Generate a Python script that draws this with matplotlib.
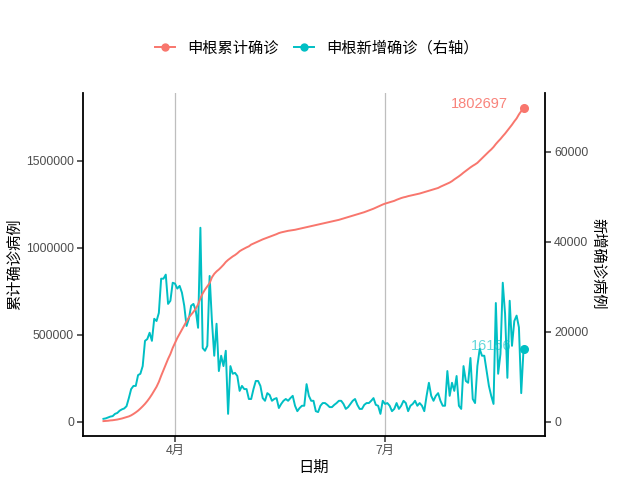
import datetime as dt
import matplotlib
matplotlib.use("Agg")
import matplotlib.pyplot as plt
from matplotlib.lines import Line2D

plt.rcParams['font.family'] = ['Liberation Sans', 'Noto Sans CJK SC', 'DejaVu Sans']

start_date = "2020-03-01"
series_names = ["申根累计确诊", "申根新增确诊（右轴）"]
x_title = "日期"
y_left_title = "累计确诊病例"
y_right_title = "新增确诊病例"
x_tick_dates = ["2020-04-01", "2020-07-01"]
x_tick_labels = ["4月", "7月"]
left_ticks = [0, 500000, 1000000, 1500000]
right_ticks = [0, 20000, 40000, 60000]

# cumulative confirmed (thousands, last exact)
cumulative_k = [
    5, 6, 7, 9, 10, 12, 14, 17, 20, 24, 28, 32, 38, 46, 55, 65, 77, 90, 104, 120,
    138, 158, 180, 202, 230, 265, 297, 330, 362, 390, 425, 454, 482, 506, 530, 555, 578, 600, 616, 632,
    650, 675, 710, 738, 760, 778, 797, 830, 850, 864, 875, 888, 902, 918, 930, 940, 950, 958, 968, 980,
    988, 995, 1002, 1008, 1018, 1024, 1030, 1036, 1042, 1048, 1053, 1058, 1063, 1068, 1073, 1078, 1084, 1088, 1091, 1094,
    1097, 1099, 1101, 1103, 1106, 1109, 1112, 1115, 1118, 1121, 1124, 1127, 1130, 1133, 1136, 1139, 1142, 1145, 1148, 1151,
    1154, 1157, 1160, 1164, 1168, 1172, 1176, 1180, 1184, 1188, 1192, 1196, 1200, 1204, 1209, 1214, 1219, 1224, 1230, 1236,
    1242, 1248, 1253, 1257, 1261, 1265, 1269, 1275, 1280, 1285, 1289, 1292, 1296, 1299, 1302, 1305, 1308, 1311, 1315, 1319,
    1323, 1327, 1331, 1335, 1339, 1343, 1350, 1356, 1362, 1368, 1374, 1382, 1392, 1401, 1410, 1420, 1431, 1441, 1451, 1461,
    1470, 1478, 1487, 1500, 1513, 1526, 1539, 1552, 1564, 1578, 1595, 1610, 1624, 1640, 1655, 1672, 1690, 1706, 1725, 1742,
    1765, 1784, 1802.697,
]

# daily new confirmed (thousands, last exact)
daily_k = [
    0.7, 0.8, 1.0, 1.2, 1.3, 1.8, 2.0, 2.5, 2.8, 3.0,
    3.5, 5.3, 7.3, 8.0, 8.0, 10.4, 10.7, 12.4, 18.0, 18.4,
    19.8, 18.0, 22.9, 22.4, 24.2, 31.8, 31.8, 32.7, 26.2, 26.9,
    30.9, 30.7, 29.6, 30.2, 28.7, 25.8, 21.3, 22.9, 25.8, 26.2,
    24.7, 20.9, 43.1, 16.4, 15.8, 16.9, 32.4, 22.4, 14.7, 21.8,
    11.3, 14.7, 12.4, 15.8, 1.8, 12.4, 10.7, 10.9, 10.2, 6.9,
    8.0, 7.3, 7.3, 5.1, 5.1, 7.3, 9.1, 9.1, 8.0, 5.3,
    4.7, 6.4, 6.0, 4.7, 5.1, 5.3, 3.1, 4.0, 4.7, 5.1,
    4.7, 5.3, 5.8, 3.6, 2.4, 3.1, 3.6, 3.6, 8.4, 5.8,
    4.7, 4.7, 2.4, 2.2, 3.6, 4.2, 4.2, 3.8, 3.3, 3.3,
    3.8, 4.2, 4.7, 4.7, 4.0, 2.9, 3.3, 4.0, 4.7, 5.1,
    3.8, 2.9, 2.9, 3.8, 4.2, 4.2, 4.7, 5.3, 3.8, 3.6,
    1.8, 4.7, 4.0, 4.2, 3.6, 2.4, 2.9, 4.2, 2.9, 3.6,
    4.7, 4.2, 2.4, 3.6, 4.0, 4.7, 3.6, 4.2, 3.6, 2.4,
    5.8, 8.7, 5.8, 4.7, 5.8, 6.4, 4.7, 3.6, 3.6, 11.3,
    5.8, 8.7, 6.9, 10.2, 3.6, 2.9, 12.4, 9.1, 8.7, 14.2,
    5.1, 4.2, 12.4, 16.2, 14.7, 14.7, 11.3, 8.0, 5.8, 4.0,
    26.4, 10.7, 15.1, 30.9, 24.0, 9.8, 26.9, 16.9, 22.4, 23.6,
    21.0, 6.4, 16.156,
]

RED = "#F8766D"
TEAL = "#00BFC4"

d0 = dt.datetime.strptime(start_date, "%Y-%m-%d")
dates = [d0 + dt.timedelta(days=i) for i in range(len(cumulative_k))]
cum = [round(v * 1000) for v in cumulative_k]
new = [round(v * 1000) for v in daily_k]

fig = plt.figure(figsize=(6.4, 4.8), dpi=100)
ax = fig.add_axes([83 / 640, (480 - 436) / 480, (545 - 83) / 640, (436 - 92.5) / 480])
ax2 = ax.twinx()

ax.set_zorder(ax2.get_zorder() + 1)
ax.patch.set_visible(False)

tick_dates = [dt.datetime.strptime(s, "%Y-%m-%d") for s in x_tick_dates]
for td in tick_dates:
    ax2.axvline(td, color="#BEBEBE", lw=0.9, zorder=0)

ax2.plot(dates, new, color=TEAL, lw=1.4, zorder=2)
ax2.plot([dates[-1]], [new[-1]], 'o', color=TEAL, ms=5.5, zorder=3)
ax2.annotate(str(new[-1]), xy=(dates[-1], new[-1]), xytext=(-8.5, 2), textcoords="offset points",
             ha="right", va="center", color=TEAL, alpha=0.6, fontsize=10.5)

ax.plot(dates, cum, color=RED, lw=1.4, zorder=3)
ax.plot([dates[-1]], [cum[-1]], 'o', color=RED, ms=5.5, zorder=4)
ax.annotate(str(cum[-1]), xy=(dates[-1], cum[-1]), xytext=(-11.5, 3), textcoords="offset points",
            ha="right", va="center", color=RED, alpha=0.9, fontsize=10.5)

xmin = d0 + dt.timedelta(days=-8.86)
xmax = d0 + dt.timedelta(days=191.3)
ax.set_xlim(xmin, xmax)
ax.set_ylim(-80460, 1890805)
ax2.set_ylim(-3111, 73111)

ax.set_xticks(tick_dates)
ax.set_xticklabels(x_tick_labels)
ax.set_yticks(left_ticks)
ax.set_yticklabels([str(v) for v in left_ticks])
ax2.set_yticks(right_ticks)
ax2.set_yticklabels([str(v) for v in right_ticks])

for a in (ax, ax2):
    a.spines['top'].set_visible(False)
    for s in ('left', 'right', 'bottom'):
        a.spines[s].set_linewidth(1.3)
        a.spines[s].set_color("black")
    a.tick_params(axis='both', length=4, width=1.1, color="#333333", labelcolor="#4D4D4D",
                  labelsize=8.8, pad=2.5)
ax.spines['right'].set_visible(False)
ax2.spines['left'].set_visible(False)
ax2.spines['bottom'].set_visible(False)

ax.set_xlabel(x_title, fontsize=11, labelpad=3)
ax.set_ylabel(y_left_title, fontsize=11, labelpad=3)
ax2.set_ylabel(y_right_title, fontsize=11, rotation=-90, labelpad=12)

handles = [
    Line2D([], [], color=RED, lw=1.4, marker='o', ms=5),
    Line2D([], [], color=TEAL, lw=1.4, marker='o', ms=5),
]
fig.legend(handles, series_names, loc="center", bbox_to_anchor=(0.495, 1 - 48 / 480), ncol=2,
           frameon=False, fontsize=11, handlelength=1.3, handletextpad=0.8, columnspacing=1.0)

fig.savefig("out.png", dpi=100)
